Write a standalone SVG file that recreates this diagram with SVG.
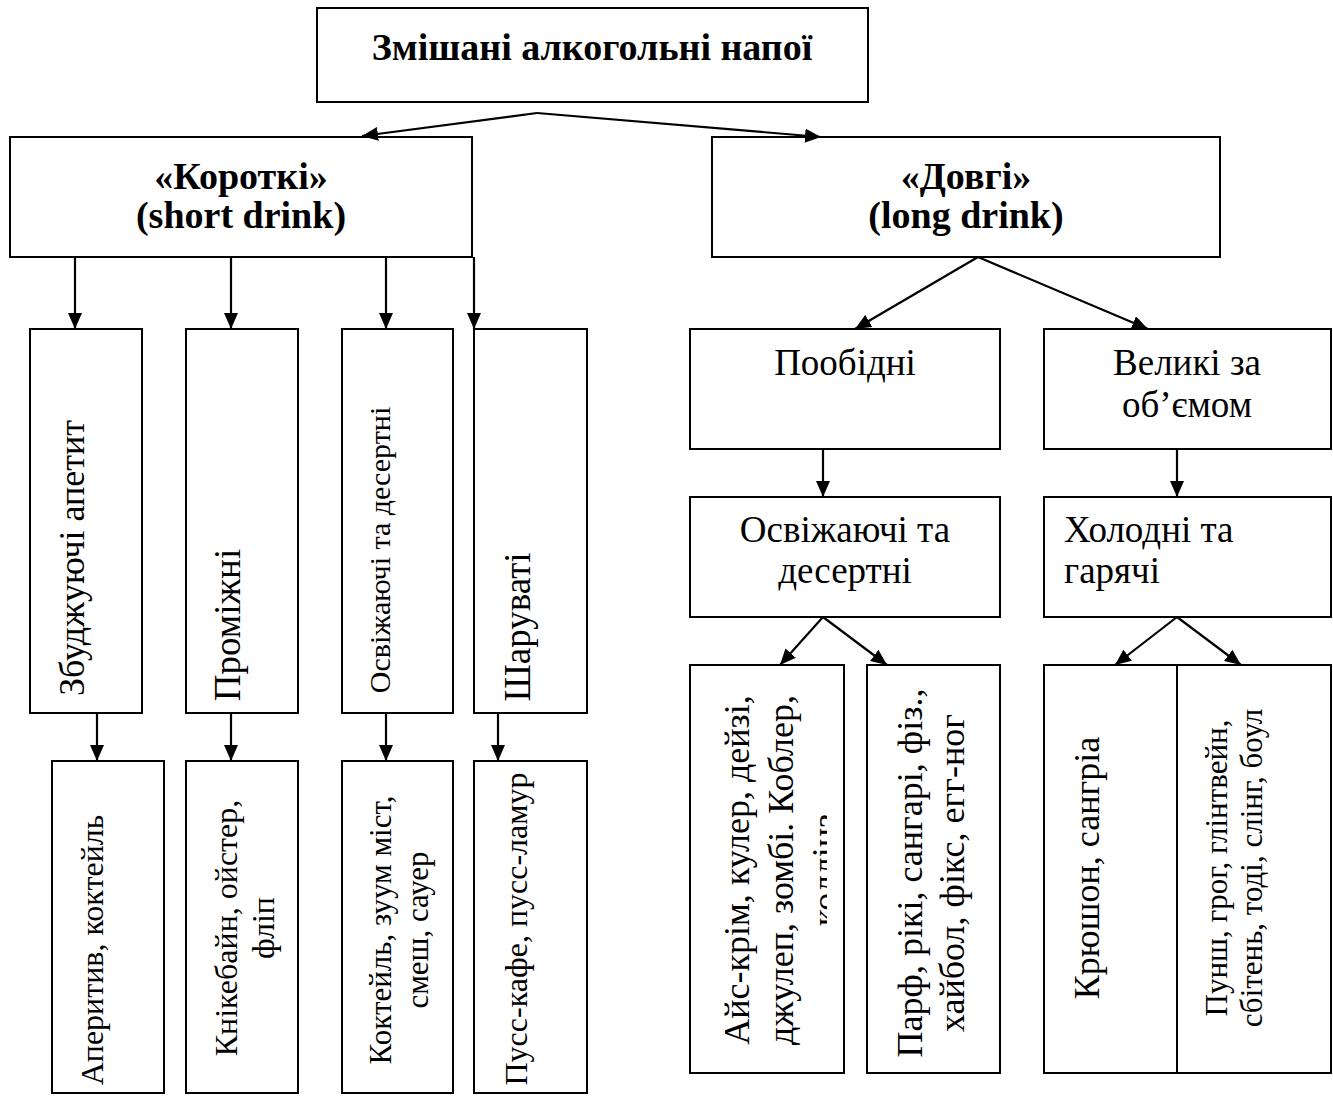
<svg xmlns="http://www.w3.org/2000/svg" width="1333" height="1097" viewBox="0 0 1333 1097">
<style>
  .box { fill: #fff; stroke: #000; stroke-width: 2; }
  .t { font-family: "Liberation Serif", "Times New Roman", serif; fill: #000; }
  .b { font-weight: bold; font-size: 38px; }
  .c { stroke: #000; stroke-width: 2.2; fill: none; marker-end: url(#ah); }
</style>
<defs>
  <marker id="ah" markerWidth="16" markerHeight="14" refX="16" refY="7" orient="auto" markerUnits="userSpaceOnUse">
    <path d="M0,0 L16,7 L0,14 z" fill="#000"/>
  </marker>
  <clipPath id="clipAis"><rect x="690" y="665" width="137" height="408"/></clipPath>
</defs>
<rect width="1333" height="1097" fill="#fff"/>

<g id="root">
  <rect class="box" x="317" y="8" width="551" height="94"/>
  <text class="t b" x="592" y="60" text-anchor="middle">Змішані алкогольні напої</text>
</g>
<g id="short">
  <rect class="box" x="10" y="137" width="462" height="120"/>
  <text class="t b" x="241" y="189" text-anchor="middle">«Короткі»</text>
  <text class="t b" x="241" y="228" text-anchor="middle">(short drink)</text>
</g>
<g id="long">
  <rect class="box" x="712" y="137" width="508" height="120"/>
  <text class="t b" x="966" y="189" text-anchor="middle">«Довгі»</text>
  <text class="t b" x="966" y="228" text-anchor="middle">(long drink)</text>
</g>

<g id="s1">
  <rect class="box" x="30" y="329" width="112" height="384"/>
  <text class="t" font-size="36" text-anchor="middle" transform="translate(84,558) rotate(-90)">Збуджуючі апетит</text>
</g>
<g id="s2">
  <rect class="box" x="186" y="329" width="112" height="384"/>
  <text class="t" font-size="37" text-anchor="middle" transform="translate(240,625) rotate(-90)">Проміжні</text>
</g>
<g id="s3">
  <rect class="box" x="342" y="329" width="111" height="384"/>
  <text class="t" font-size="30" text-anchor="middle" transform="translate(390,550) rotate(-90)">Освіжаючі та десертні</text>
</g>
<g id="s4">
  <rect class="box" x="474" y="329" width="113" height="384"/>
  <text class="t" font-size="37" text-anchor="middle" transform="translate(530,627) rotate(-90)">Шаруваті</text>
</g>

<g id="s1b">
  <rect class="box" x="52" y="761" width="112" height="332"/>
  <text class="t" font-size="32" text-anchor="middle" transform="translate(103,950) rotate(-90)">Аперитив, коктейль</text>
</g>
<g id="s2b">
  <rect class="box" x="186" y="761" width="112" height="332"/>
  <text class="t" font-size="32" text-anchor="middle" transform="translate(237,928) rotate(-90)"><tspan x="0" y="0">Кнікебайн, ойстер,</tspan><tspan x="0" y="37">фліп</tspan></text>
</g>
<g id="s3b">
  <rect class="box" x="342" y="761" width="111" height="332"/>
  <text class="t" font-size="31" text-anchor="middle" transform="translate(391,930) rotate(-90)"><tspan x="0" y="0">Коктейль,  зуум міст,</tspan><tspan x="0" y="37">смеш, сауер</tspan></text>
</g>
<g id="s4b">
  <rect class="box" x="474" y="761" width="113" height="332"/>
  <text class="t" font-size="32" text-anchor="middle" transform="translate(527,929) rotate(-90)">Пусс-кафе, пусс-ламур</text>
</g>

<g id="l1">
  <rect class="box" x="690" y="329" width="310" height="120"/>
  <text class="t" font-size="37" x="845" y="375" text-anchor="middle">Пообідні</text>
</g>
<g id="l2">
  <rect class="box" x="1044" y="329" width="287" height="120"/>
  <text class="t" font-size="37" x="1187" y="375" text-anchor="middle">Великі за</text>
  <text class="t" font-size="37" x="1187" y="417" text-anchor="middle">об’ємом</text>
</g>
<g id="l1a">
  <rect class="box" x="690" y="497" width="310" height="120"/>
  <text class="t" font-size="37" x="845" y="542" text-anchor="middle">Освіжаючі та</text>
  <text class="t" font-size="37" x="845" y="583" text-anchor="middle">десертні</text>
</g>
<g id="l2a">
  <rect class="box" x="1044" y="497" width="287" height="120"/>
  <text class="t" font-size="37" x="1064" y="542">Холодні та</text>
  <text class="t" font-size="37" x="1064" y="583">гарячі</text>
</g>

<g id="l1a1">
  <rect class="box" x="690" y="665" width="154" height="408"/>
  <g clip-path="url(#clipAis)">
    <text class="t" font-size="36" text-anchor="middle" transform="translate(749,870) rotate(-90)"><tspan x="0" y="0">Айс-крім, кулер, дейзі,</tspan><tspan x="0" y="44">джулеп, зомбі. Коблер,</tspan><tspan x="0" y="88">коллінз</tspan></text>
  </g>
</g>
<g id="l1a2">
  <rect class="box" x="867" y="665" width="133" height="408"/>
  <text class="t" font-size="36" text-anchor="middle" transform="translate(922,873) rotate(-90)"><tspan x="0" y="0">Парф, рікі, сангарі, фіз.,</tspan><tspan x="0" y="42">хайбол, фікс, егг-ног</tspan></text>
</g>
<g id="l2a1">
  <rect class="box" x="1044" y="665" width="133" height="408"/>
  <text class="t" font-size="36" text-anchor="middle" transform="translate(1099,868) rotate(-90)">Крюшон, сангріа</text>
</g>
<g id="l2a2">
  <rect class="box" x="1177" y="665" width="154" height="408"/>
  <text class="t" font-size="31" text-anchor="middle" transform="translate(1227,868) rotate(-90)"><tspan x="0" y="0">Пунш, грог, глінтвейн,</tspan><tspan x="0" y="35">сбітень, тоді, слінг, боул</tspan></text>
</g>

<g id="connectors">
  <line class="c" x1="537" y1="113" x2="362" y2="136"/>
  <line class="c" x1="537" y1="113" x2="821" y2="137"/>
  <line class="c" x1="75" y1="257" x2="75" y2="329"/>
  <line class="c" x1="231" y1="257" x2="231" y2="329"/>
  <line class="c" x1="386" y1="257" x2="386" y2="329"/>
  <line class="c" x1="474" y1="257" x2="474" y2="329"/>
  <line class="c" x1="97" y1="713" x2="97" y2="761"/>
  <line class="c" x1="231" y1="713" x2="231" y2="761"/>
  <line class="c" x1="386" y1="713" x2="386" y2="761"/>
  <line class="c" x1="498" y1="713" x2="498" y2="761"/>
  <line class="c" x1="978" y1="257" x2="855" y2="329"/>
  <line class="c" x1="978" y1="257" x2="1148" y2="329"/>
  <line class="c" x1="823" y1="449" x2="823" y2="497"/>
  <line class="c" x1="1177" y1="449" x2="1177" y2="497"/>
  <line class="c" x1="823" y1="617" x2="780" y2="665"/>
  <line class="c" x1="823" y1="617" x2="887" y2="665"/>
  <line class="c" x1="1177" y1="617" x2="1115" y2="665"/>
  <line class="c" x1="1177" y1="617" x2="1241" y2="665"/>
</g>
</svg>
